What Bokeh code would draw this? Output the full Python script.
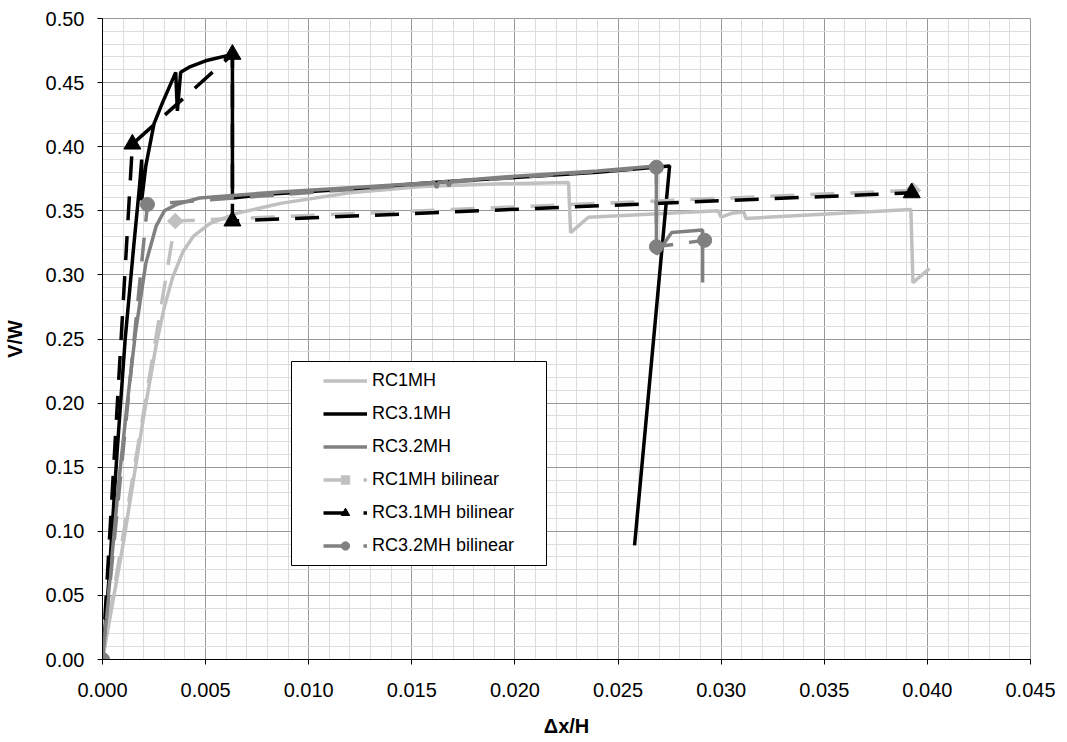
import numpy as np
from bokeh.plotting import figure
from bokeh.models import (SingleIntervalTicker, NumeralTickFormatter, Legend,
                          LegendItem, BoxAnnotation)
from bokeh.embed import file_html
from bokeh.resources import INLINE

# ---------------- data ----------------
rc1_x = [0, 0.0010, 0.0020, 0.0026, 0.0030, 0.0034, 0.0039, 0.0044, 0.0052, 0.0065,
         0.0087, 0.0120, 0.0155, 0.0190, 0.02260, 0.02270, 0.02356, 0.02985, 0.0300,
         0.0305, 0.0311, 0.0312, 0.0392, 0.0393, 0.0401]
rc1_y = [0, 0.090, 0.190, 0.245, 0.275, 0.298, 0.318, 0.330, 0.340, 0.348,
         0.356, 0.364, 0.369, 0.371, 0.372, 0.333, 0.345, 0.350, 0.345,
         0.348, 0.349, 0.344, 0.351, 0.294, 0.305]

rc31_x = [0, 0.0003, 0.0007, 0.0011, 0.0015, 0.0018, 0.0019, 0.0019, 0.0021, 0.0025,
          0.0029, 0.00355, 0.00363, 0.00379, 0.0042, 0.0050, 0.0063, 0.0063, 0.0080,
          0.0120, 0.0160, 0.0200, 0.0240, 0.0268, 0.0275, 0.0258]
rc31_y = [0, 0.060, 0.160, 0.250, 0.320, 0.370, 0.390, 0.358, 0.385, 0.418,
          0.434, 0.458, 0.428, 0.458, 0.462, 0.467, 0.472, 0.360, 0.363,
          0.367, 0.372, 0.376, 0.380, 0.384, 0.385, 0.089]

rc32_x = [0, 0.0004, 0.0008, 0.0012, 0.0016, 0.0021, 0.0026, 0.0030, 0.0036, 0.0047,
          0.0080, 0.0120, 0.0161, 0.0162, 0.0163, 0.0167, 0.0168, 0.0169, 0.0200,
          0.0240, 0.02686, 0.02686, 0.0276, 0.0291, 0.0291]
rc32_y = [0, 0.070, 0.140, 0.200, 0.255, 0.309, 0.338, 0.350, 0.355, 0.360,
          0.364, 0.368, 0.372, 0.368, 0.372, 0.373, 0.369, 0.373, 0.377,
          0.381, 0.385, 0.316, 0.333, 0.335, 0.294]

rc1b_x = [0, 0.00353, 0.0393]
rc1b_y = [0, 0.342, 0.366]

rc31b_x = [0, 0.00145, 0.0063, 0.0063, 0.03924]
rc31b_y = [0, 0.402, 0.472, 0.342, 0.364]

rc32b_x = [0, 0.00218, 0.02686, 0.02686, 0.0292]
rc32b_y = [0, 0.355, 0.384, 0.322, 0.327]

labels = ["RC1MH", "RC3.1MH", "RC3.2MH", "RC1MH bilinear", "RC3.1MH bilinear", "RC3.2MH bilinear"]
x_ticks_interval = 0.005
y_ticks_interval = 0.05

LIGHT = "#c0c0c0"
DARK = "#808080"
BLACK = "#000000"
FONT = "Liberation Sans"

p = figure(width=1058, height=742, x_range=(0, 0.045), y_range=(0, 0.5),
           output_backend="svg", toolbar_location=None,
           min_border_left=100, min_border_right=28, min_border_top=18, min_border_bottom=83)
p.background_fill_color = "white"
p.border_fill_color = "white"
p.outline_line_color = "#999999"

p.xaxis.ticker = SingleIntervalTicker(interval=x_ticks_interval, num_minor_ticks=5)
p.yaxis.ticker = SingleIntervalTicker(interval=y_ticks_interval, num_minor_ticks=5)
p.xaxis.formatter = NumeralTickFormatter(format="0.000")
p.yaxis.formatter = NumeralTickFormatter(format="0.00")

for ax in (p.xaxis, p.yaxis):
    ax.axis_line_color = BLACK
    ax.axis_line_width = 1
    ax.major_tick_line_color = BLACK
    ax.major_tick_out = 5
    ax.major_tick_in = 0
    ax.minor_tick_line_color = None
    ax.major_label_text_font = FONT
    ax.major_label_text_font_size = "20px"
    ax.major_label_text_color = BLACK
    ax.axis_label_text_font = FONT
    ax.axis_label_text_font_size = "20px"
    ax.axis_label_text_font_style = "bold"
    ax.axis_label_text_color = BLACK

p.xaxis.axis_label = "Δx/H"
p.yaxis.axis_label = "V/W"
p.xaxis.major_label_standoff = 18
p.xaxis.axis_label_standoff = 15
p.yaxis.major_label_standoff = 13
p.yaxis.axis_label_standoff = 17

for g in (p.xgrid, p.ygrid):
    g.grid_line_color = "#999999"
    g.grid_line_width = 1
    g.minor_grid_line_color = "#dddddd"
    g.minor_grid_line_width = 1

LW = 3.5
DASH = "24 16"

r1 = p.line(rc1_x, rc1_y, line_color=LIGHT, line_width=LW)
r2 = p.line(rc31_x, rc31_y, line_color=BLACK, line_width=LW)
r3 = p.line(rc32_x, rc32_y, line_color=DARK, line_width=LW)

r4l = p.line(rc1b_x, rc1b_y, line_color=LIGHT, line_width=LW, line_dash=DASH)
r4m = p.scatter(rc1b_x, rc1b_y, marker="square", angle=np.pi / 4, size=11,
                fill_color=LIGHT, line_color=LIGHT)
r5l = p.line(rc31b_x, rc31b_y, line_color=BLACK, line_width=LW, line_dash=DASH)
r5m = p.scatter(rc31b_x, rc31b_y, marker="triangle", size=17,
                fill_color=BLACK, line_color=BLACK)
r6l = p.line(rc32b_x, rc32b_y, line_color=DARK, line_width=LW, line_dash=DASH)
r6m = p.scatter(rc32b_x, rc32b_y, marker="circle", size=14,
                fill_color=DARK, line_color=DARK)

box = BoxAnnotation(left=189, right=444, top=298, bottom=94,
                    left_units="screen", right_units="screen",
                    top_units="screen", bottom_units="screen",
                    fill_color="white", fill_alpha=1.0, line_color=BLACK,
                    line_width=1, line_alpha=1.0)
p.add_layout(box)

items = [
    LegendItem(label=labels[0], renderers=[r1]),
    LegendItem(label=labels[1], renderers=[r2]),
    LegendItem(label=labels[2], renderers=[r3]),
    LegendItem(label=labels[3], renderers=[r4l, r4m]),
    LegendItem(label=labels[4], renderers=[r5l, r5m]),
    LegendItem(label=labels[5], renderers=[r6l, r6m]),
]
legend = Legend(items=items, location=(221, 103), padding=0, margin=0,
                spacing=12, glyph_width=44, glyph_height=21, label_height=21,
                label_standoff=5, border_line_color=None,
                background_fill_alpha=0.0,
                label_text_font=FONT, label_text_font_size="18px",
                label_text_color=BLACK)
p.add_layout(legend, "center")

open("out.html", "w").write(file_html(p, INLINE))
